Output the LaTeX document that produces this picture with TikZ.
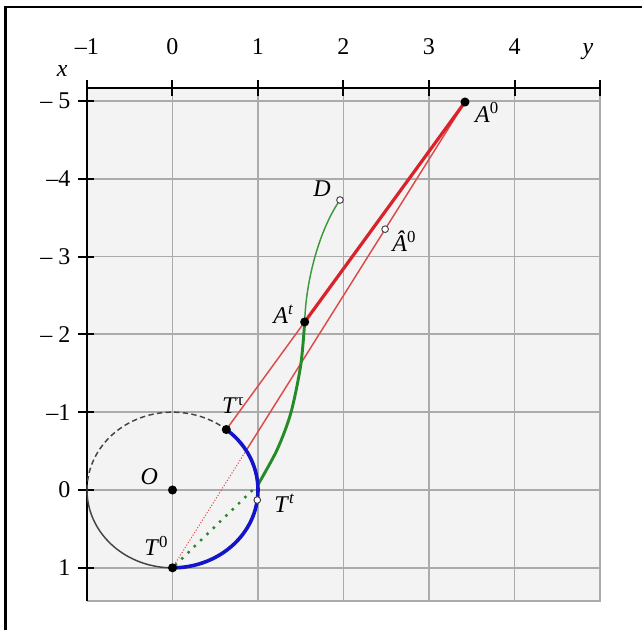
\documentclass[tikz,border=0pt]{standalone}
\usepackage{fontspec}
\setmainfont{Liberation Serif}
\usetikzlibrary{calc}
\definecolor{bggray}{HTML}{F3F3F3}
\definecolor{gridgray}{HTML}{ABABAB}
\definecolor{myred}{HTML}{D8232A}
\definecolor{myredthin}{HTML}{DD4A4A}
\definecolor{myblue}{HTML}{1414C8}
\definecolor{mygreen}{HTML}{268A26}
\definecolor{mygreenthin}{HTML}{3C9A3C}
\definecolor{arcgray}{HTML}{444444}
\begin{document}
\begin{tikzpicture}[x=64.125pt,y=-58.3725pt,
  lbl/.style={inner sep=0pt, font=\fontsize{18}{21}\selectfont},
  gridline/.style={gridgray, line width=1.4pt},
  axisline/.style={black, line width=1.8pt},
  tickline/.style={black, line width=1.5pt},
  dotfill/.style={circle, fill=black, inner sep=0pt, minimum size=6.8pt},
  dotopen/.style={circle, fill=white, draw=black!75, line width=0.7pt, inner sep=0pt, minimum size=5pt},
  redthick/.style={myred, line width=2.4pt},
  redthin/.style={myredthin, line width=1.1pt},
  reddot/.style={myredthin, line width=0.8pt, dash pattern=on 0.8pt off 1.4pt},
  bluearc/.style={myblue, line width=2.7pt},
  greenthick/.style={mygreen, line width=2.2pt},
  greenthin/.style={mygreenthin, line width=1.1pt},
  greendot/.style={mygreen, line width=2.6pt, line cap=round, dash pattern=on 0pt off 6.6pt},
  blackarc/.style={arcgray, line width=1.1pt},
  dasharc/.style={arcgray, line width=1.1pt, dash pattern=on 4pt off 2.5pt}
]
\useasboundingbox (-2.0175,-6.2958) rectangle (5.4912,1.7989);
\fill[white] (-2.0175,-6.2958) rectangle (5.4912,1.7989);
% frame (left and top)
\draw[black, line width=2pt] (-1.955,1.7989) -- (-1.955,-6.206) -- (5.4912,-6.206);
% plot area
\fill[bggray] (-1,-5.165) rectangle (5,1.426);
\foreach \h in {0,1,2,3,4}{\draw[gridline] (\h,-5.165) -- (\h,1.426);}
\foreach \v in {-5,-4,-3,-2,-1,0,1}{\draw[gridline] (-1,\v) -- (5,\v);}
\draw[gridline] (-1,1.426) -- (5,1.426) -- (5,-5.165);
% axes
\draw[axisline] (-1,-5.165) -- (5,-5.165);
\draw[axisline] (-1,-5.165) -- (-1,1.426);
\foreach \h in {-1,0,1,2,3,4,5}{\draw[tickline] (\h,-5.268) -- (\h,-5.062);}
\foreach \v in {-5,-4,-3,-2,-1,0,1}{\draw[tickline] (-1.105,\v) -- (-0.92,\v);}
% axis labels
\node[lbl, anchor=base] (ly) at (4.86,-5.59) {\textit{y}};
\node[lbl, anchor=base] (lx) at (-1.29,-5.31) {\textit{x}};
\foreach \h/\t/\n in {-1/–1/a,0/0/b,1/1/c,2/2/d,3/3/e,4/4/f}{
  \node[lbl, anchor=base] (top\n) at (\h,-5.59) {\t};}
\foreach \v/\t/\n in {-5/– 5/a,-4/–4/b,-3/– 3/c,-2/– 2/d,-1/–1/e,0/0/f,1/1/g}{
  \node[lbl, anchor=east] (left\n) at (-1.19,\v) {\t};}
% key points
\coordinate (O) at (0,0);
\coordinate (T0) at (0,1);
\coordinate (Ttau) at ({cos(-51)},{sin(-51)});
\coordinate (Tt) at ({cos(7.4)},{sin(7.4)});
\coordinate (Gend) at ({cos(-3.7)},{sin(-3.7)});
\coordinate (A0) at (3.421,-4.985);
\coordinate (At) at ($(Ttau)!0.3284!(A0)$);
\coordinate (Ahat) at ($(T0)!0.727!(A0)$);
\coordinate (D) at (1.959,-3.726);
\coordinate (Cb) at ($(T0)!0.2519!(A0)$);
% unit circle
\draw[blackarc] plot[domain=90:180, samples=50] ({cos(\x)},{sin(\x)});
\draw[dasharc] plot[domain=180:309, samples=70] ({cos(\x)},{sin(\x)});
% red lines
\draw[redthin] (Cb) -- (A0);
\draw[reddot] (T0) -- (Cb);
\draw[redthin] (Ttau) -- (At);
\draw[redthick] (At) -- (A0);
% green curve
\draw[greenthin] (D) .. controls (1.72,-3.35) and (1.56,-2.7) .. (At);
\draw[greenthick] plot[smooth] coordinates {(At) (1.50,-1.606) (1.384,-0.989) (1.222,-0.514) (Gend)};
\draw[greendot] ($(T0)!0.04!(Gend)$) -- ($(T0)!0.95!(Gend)$);
% blue arc
\draw[bluearc] plot[domain=-51:90, samples=80] ({cos(\x)},{sin(\x)});
% dots
\node[dotfill] (dO) at (O) {};
\node[dotfill] (dT0) at (T0) {};
\node[dotfill] (dTtau) at (Ttau) {};
\node[dotfill] (dA0) at (A0) {};
\node[dotfill] (dAt) at (At) {};
\node[dotopen] (dTt) at (Tt) {};
\node[dotopen] (dAhat) at (Ahat) {};
\node[dotopen] (dD) at (D) {};
% labels
\node[lbl] (lA0) at (3.68,-4.85) {\textit{A}\textsuperscript{0}};
\node[lbl] (lAhat) at (2.71,-3.20) {\textit{Â}\textsuperscript{0}};
\node[lbl] (lAt) at (1.30,-2.26) {\textit{A}\textsuperscript{\textit{t}}};
\node[lbl] (lD) at (1.75,-3.87) {\textit{D}};
\node[lbl] (lTtau) at (0.71,-1.08) {\textit{T}\textsuperscript{τ}};
\node[lbl] (lO) at (-0.27,-0.17) {\textit{O}};
\node[lbl] (lT0) at (-0.19,0.72) {\textit{T}\textsuperscript{0}};
\node[lbl] (lTt) at (1.31,0.17) {\textit{T}\textsuperscript{\textit{t}}};
\end{tikzpicture}
\end{document}
